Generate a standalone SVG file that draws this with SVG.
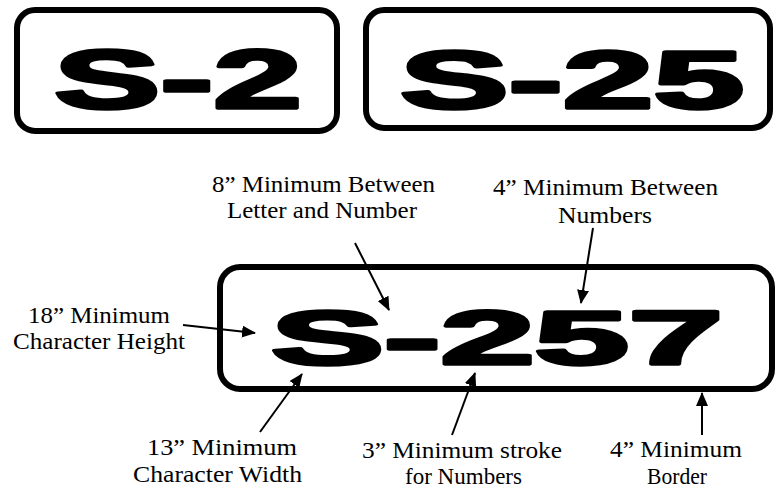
<svg xmlns="http://www.w3.org/2000/svg" width="775" height="492" viewBox="0 0 775 492">
<defs>
<marker id="ah" markerUnits="userSpaceOnUse" markerWidth="14" markerHeight="12" refX="13" refY="6" orient="auto">
<path d="M0,0 L14,6 L0,12 z" fill="#000"/>
</marker>
<style>
.sign{fill:#fff;stroke:#000;stroke-width:6}
.big{font-family:"Liberation Sans",Arial,sans-serif;font-weight:bold;fill:#000;stroke:#000;stroke-width:3.5;stroke-linejoin:round}
.lbl{font-family:"Liberation Serif","Times New Roman",serif;font-size:23px;fill:#000}
.conn line{stroke:#000;stroke-width:2;marker-end:url(#ah)}
</style>
</defs>
<rect width="775" height="492" fill="#fff"/>
<g id="sign-s2">
<rect class="sign" x="17" y="10" width="320" height="121" rx="18"/>
<text class="big" x="54" y="108" font-size="84" textLength="248" lengthAdjust="spacingAndGlyphs">S-2</text>
</g>
<g id="sign-s25">
<rect class="sign" x="366" y="10" width="404" height="118" rx="18"/>
<text class="big" x="400" y="108" font-size="82" textLength="344" lengthAdjust="spacingAndGlyphs">S-25</text>
</g>
<g id="sign-s257">
<rect class="sign" x="220" y="267" width="552" height="122" rx="20"/>
<text class="big" x="271" y="364" font-size="76" textLength="452" lengthAdjust="spacingAndGlyphs">S-257</text>
</g>
<g id="label-letter-number">
<text class="lbl" x="212" y="192" textLength="223" lengthAdjust="spacingAndGlyphs">8” Minimum Between</text>
<text class="lbl" x="227" y="218" textLength="190" lengthAdjust="spacingAndGlyphs">Letter and Number</text>
</g>
<g id="label-between-numbers">
<text class="lbl" x="493" y="195" textLength="225" lengthAdjust="spacingAndGlyphs">4” Minimum Between</text>
<text class="lbl" x="558" y="223" textLength="94" lengthAdjust="spacingAndGlyphs">Numbers</text>
</g>
<g id="label-height">
<text class="lbl" x="28" y="323" textLength="142" lengthAdjust="spacingAndGlyphs">18” Minimum</text>
<text class="lbl" x="13" y="349" textLength="172" lengthAdjust="spacingAndGlyphs">Character Height</text>
</g>
<g id="label-width">
<text class="lbl" x="147" y="455" textLength="150" lengthAdjust="spacingAndGlyphs">13” Minimum</text>
<text class="lbl" x="133" y="482" textLength="169" lengthAdjust="spacingAndGlyphs">Character Width</text>
</g>
<g id="label-stroke">
<text class="lbl" x="362" y="458" textLength="200" lengthAdjust="spacingAndGlyphs">3” Minimum stroke</text>
<text class="lbl" x="405" y="484" textLength="117" lengthAdjust="spacingAndGlyphs">for Numbers</text>
</g>
<g id="label-border">
<text class="lbl" x="610" y="457" textLength="132" lengthAdjust="spacingAndGlyphs">4” Minimum</text>
<text class="lbl" x="647" y="484" textLength="60" lengthAdjust="spacingAndGlyphs">Border</text>
</g>
<g id="connectors" class="conn">
<line x1="355" y1="243" x2="389" y2="310"/>
<line x1="593" y1="228" x2="581" y2="303"/>
<line x1="183" y1="325" x2="255" y2="333"/>
<line x1="260" y1="432" x2="302" y2="374"/>
<line x1="452" y1="435" x2="475" y2="373"/>
<line x1="702" y1="435" x2="702" y2="393"/>
</g>
</svg>
